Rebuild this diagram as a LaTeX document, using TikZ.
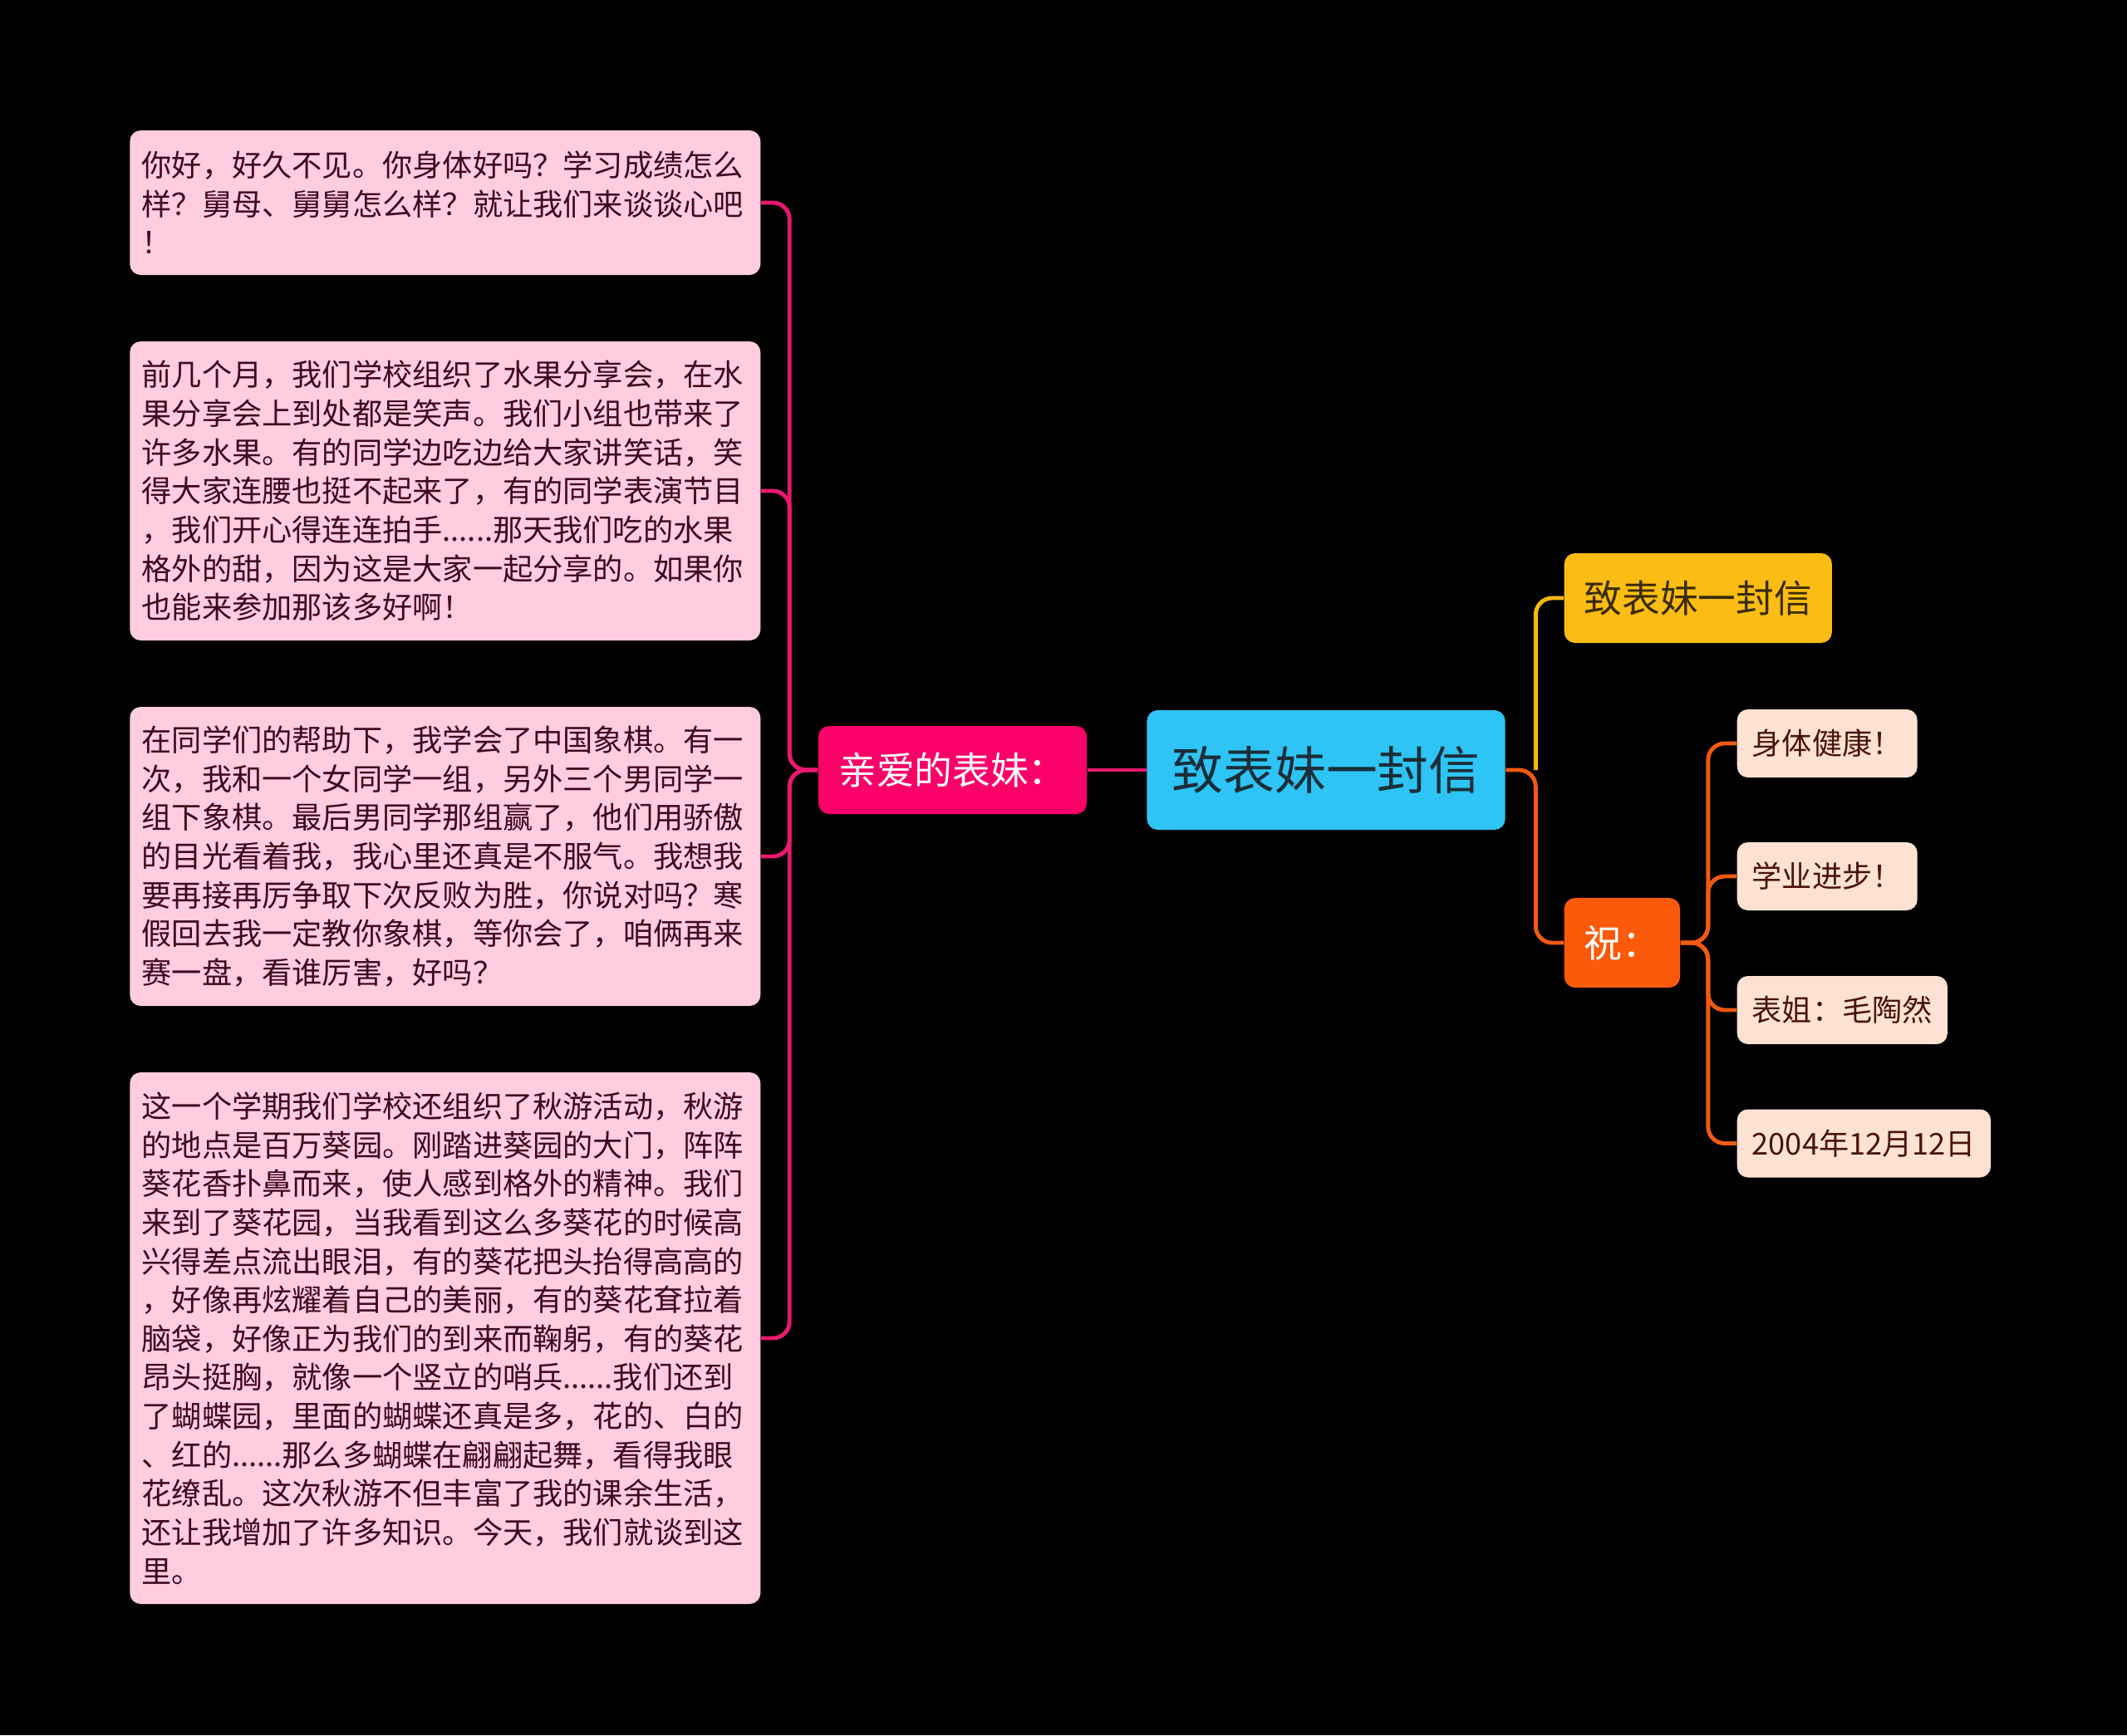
\documentclass[tikz,border=0pt]{standalone}
\usepackage{fontspec}
\setmainfont{Noto Sans CJK SC}
\usetikzlibrary{positioning}

\definecolor{parafill}{HTML}{FFCCE0}
\definecolor{paratext}{HTML}{3C0A1E}
\definecolor{dearfill}{HTML}{FA0068}
\definecolor{rootfill}{HTML}{2EC4F5}
\definecolor{roottext}{HTML}{1B2E38}
\definecolor{titlefill}{HTML}{FBBD14}
\definecolor{titletext}{HTML}{3A2C00}
\definecolor{wishfill}{HTML}{FA5A0A}
\definecolor{leaffill}{HTML}{FDE1D3}
\definecolor{leaftext}{HTML}{4A1508}
\definecolor{pinkline}{HTML}{E8196E}
\definecolor{yellowline}{HTML}{F5B90F}
\definecolor{orangeline}{HTML}{F25A12}

\begin{document}
\begin{tikzpicture}[
  box/.style={rectangle, rounded corners=0.13cm, align=center},
  para/.style={box, fill=parafill, text=paratext, text width=7.3cm, align=left, inner xsep=0.145cm, anchor=east, font=\fontsize{10.3}{13.27}\selectfont},
  dear/.style={box, fill=dearfill, text=white, inner xsep=0.245cm, minimum height=1.06cm, font=\fontsize{13}{15}\selectfont},
  topic/.style={box, fill=rootfill, text=roottext, inner xsep=0.3cm, minimum height=1.44cm, font=\fontsize{17.6}{20}\selectfont},
  branch/.style={box, anchor=west, inner xsep=0.24cm, minimum height=1.08cm, font=\fontsize{13}{15}\selectfont},
  leaf/.style={box, fill=leaffill, text=leaftext, anchor=west, inner xsep=0.18cm, minimum height=0.82cm, font=\fontsize{10.3}{12}\selectfont},
  link/.style={line width=1.4pt, rounded corners=0.2cm}
]
\fill[black] (0,0) rectangle (25.6,-20.89);

\node[topic] (root) at (15.96,-9.27) {致表妹一封信};
\node[dear, left of=root, node distance=4.495cm] (dear) {亲爱的表妹：};

\node[para, minimum height=1.74cm] (para1) at (9.16,-2.44) {你好，好久不见。你身体好吗？学习成绩怎么\\样？舅母、舅舅怎么样？就让我们来谈谈心吧\\！};
\node[para, minimum height=3.6cm] (para2) at (9.16,-5.91) {前几个月，我们学校组织了水果分享会，在水\\果分享会上到处都是笑声。我们小组也带来了\\许多水果。有的同学边吃边给大家讲笑话，笑\\得大家连腰也挺不起来了，有的同学表演节目\\，我们开心得连连拍手......那天我们吃的水果\\格外的甜，因为这是大家一起分享的。如果你\\也能来参加那该多好啊！};
\node[para, minimum height=3.6cm] (para3) at (9.16,-10.31) {在同学们的帮助下，我学会了中国象棋。有一\\次，我和一个女同学一组，另外三个男同学一\\组下象棋。最后男同学那组赢了，他们用骄傲\\的目光看着我，我心里还真是不服气。我想我\\要再接再厉争取下次反败为胜，你说对吗？寒\\假回去我一定教你象棋，等你会了，咱俩再来\\赛一盘，看谁厉害，好吗？};
\node[para, minimum height=6.4cm] (para4) at (9.16,-16.11) {这一个学期我们学校还组织了秋游活动，秋游\\的地点是百万葵园。刚踏进葵园的大门，阵阵\\葵花香扑鼻而来，使人感到格外的精神。我们\\来到了葵花园，当我看到这么多葵花的时候高\\兴得差点流出眼泪，有的葵花把头抬得高高的\\，好像再炫耀着自己的美丽，有的葵花耷拉着\\脑袋，好像正为我们的到来而鞠躬，有的葵花\\昂头挺胸，就像一个竖立的哨兵......我们还到\\了蝴蝶园，里面的蝴蝶还真是多，花的、白的\\、红的......那么多蝴蝶在翩翩起舞，看得我眼\\花缭乱。这次秋游不但丰富了我的课余生活，\\还让我增加了许多知识。今天，我们就谈到这\\里。};

\node[branch, fill=titlefill, text=titletext] (title) at (18.82,-7.20) {致表妹一封信};
\node[branch, fill=wishfill, text=white] (wish) at (18.82,-11.35) {祝：};

\node[leaf] (wish1) at (20.90,-8.95) {身体健康！};
\node[leaf] (wish2) at (20.90,-10.55) {学业进步！};
\node[leaf] (wish3) at (20.90,-12.16) {表姐：毛陶然};
\node[leaf] (wish4) at (20.90,-13.765) {2004年12月12日};

% left side
\foreach \p in {para1,para2,para3,para4}
  \draw[link, pinkline] (dear.west) -- ++(-0.34,0) |- (\p.east);
\draw[link, pinkline] (dear.east) -- (root.west);

% right side
\draw[link, yellowline] (root.east) ++(0.36,0) |- (title.west);
\draw[link, orangeline] (root.east) -- ++(0.36,0) |- (wish.west);
\foreach \w in {wish1,wish2,wish3,wish4}
  \draw[link, orangeline] (wish.east) -- ++(0.33,0) |- (\w.west);
\end{tikzpicture}
\end{document}
